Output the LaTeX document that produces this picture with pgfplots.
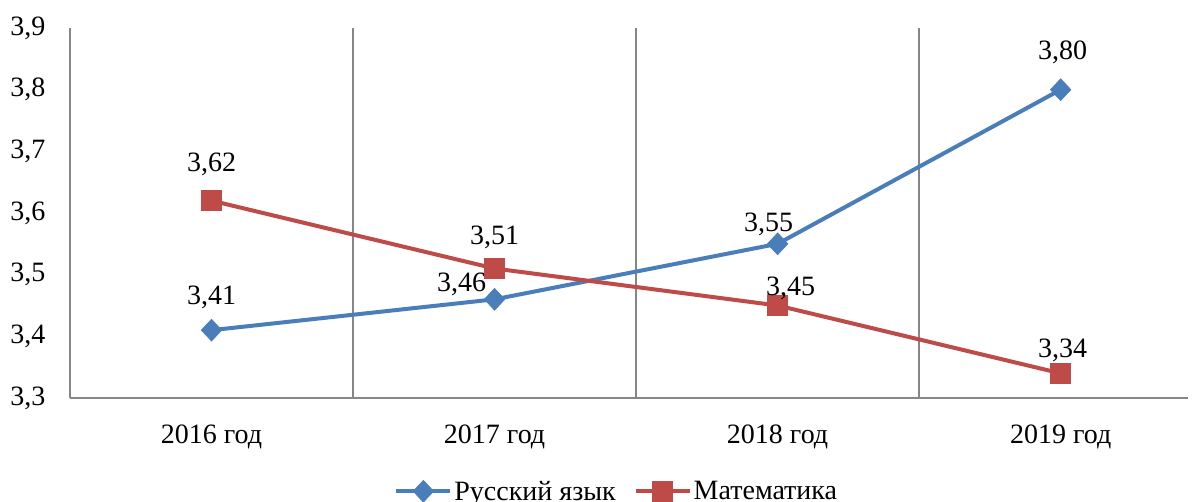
\documentclass[border=0pt]{standalone}
\usepackage{fontspec}
\setmainfont{Liberation Serif}
\usepackage{pgfplots}
\pgfplotsset{compat=1.18}
\usepackage{pgfplotstable}

\definecolor{rusblue}{HTML}{4A7EBB}
\definecolor{mathred}{HTML}{BE4B48}
\definecolor{axgray}{HTML}{868686}

% x  y  dx dy (label offsets, bp)
\pgfplotstableread{
x y dx dy
0 3.41 0 33
1 3.46 -33 15
2 3.55 -9 19
3 3.80 2 37
}\rus
\pgfplotstableread{
x y dx dy
0 3.62 0 36
1 3.51 0 31
2 3.45 13 17
3 3.34 2 23
}\mat

\newcommand{\fsz}{\fontsize{28bp}{33bp}\selectfont}

\begin{document}
\begin{tikzpicture}
\useasboundingbox (-70bp,-104bp) rectangle (1123bp,398bp);
\begin{axis}[
    at={(0,0)}, anchor=south west,
    scale only axis,
    width=1118bp, height=370bp,
    xmin=-0.5, xmax=3.45,
    ymin=3.3, ymax=3.9,
    ytick={3.3,3.4,...,3.9},
    xtick={0,1,2,3},
    xticklabels={2016 год,2017 год,2018 год,2019 год},
    extra x ticks={0.5,1.5,2.5},
    extra x tick labels={},
    extra x tick style={grid=major, major grid style={axgray, line width=1.3bp}},
    major tick length=0pt,
    axis x line*=bottom, axis y line*=left,
    axis line style={axgray, line width=1.5bp},
    tick label style={font=\fsz, black},
    yticklabel style={xshift=-21bp},
    xticklabel style={yshift=-23bp},
    /pgf/number format/.cd, fixed, fixed zerofill, precision=1, use comma, assume math mode=true,
    /pgfplots/.cd,
    clip=false,
    legend columns=2,
    legend style={at={(0.489,-0.252)}, anchor=center, draw=none, fill=none,
        font=\fsz, /tikz/every even column/.append style={column sep=16bp},
        inner sep=0pt},
    legend image code/.code={\draw[mark repeat=2,mark phase=2] plot coordinates {(0bp,0bp) (27bp,0bp) (54bp,0bp)};},
    visualization depends on={\thisrow{dx}\as\dx},
    visualization depends on={\thisrow{dy}\as\dy},
    nodes near coords={\pgfmathprintnumber[fixed,fixed zerofill,precision=2,use comma,assume math mode=true]{\pgfplotspointmeta}},
    every node near coord/.append style={font=\fsz, black, anchor=center, xshift=\dx bp, yshift=\dy bp},
]
\addplot[rusblue, line width=4bp, mark=diamond*, mark size=11bp, mark options={fill=rusblue, draw=rusblue, line width=0.5bp, xscale=1.25}] table[x=x,y=y] {\rus};
\addplot[mathred, line width=4bp, mark=square*, mark size=10bp, mark options={fill=mathred, draw=mathred, line width=0.5bp}] table[x=x,y=y] {\mat};
\legend{Русский язык, Математика}
\end{axis}
\end{tikzpicture}
\end{document}
